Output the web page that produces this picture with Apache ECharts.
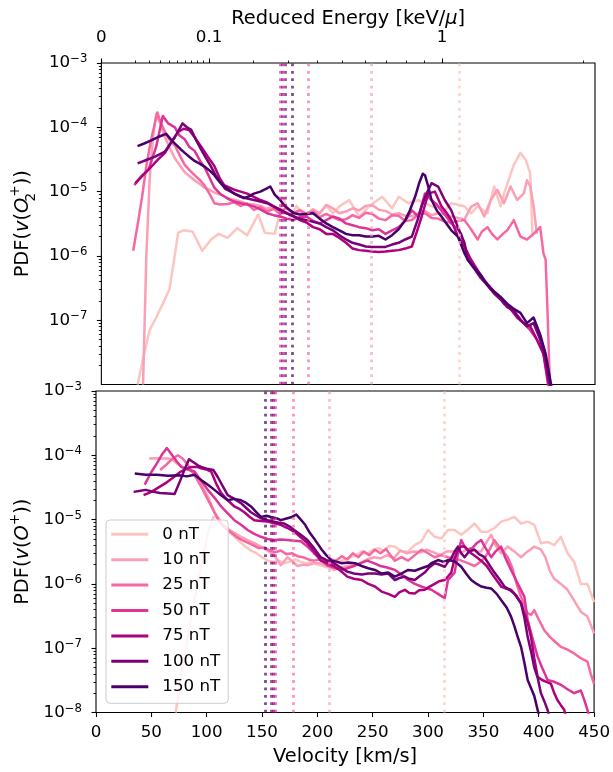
<!DOCTYPE html>
<html><head><meta charset="utf-8">
<script src="https://cdn.jsdelivr.net/npm/echarts@6/dist/echarts.min.js"></script>
<style>html,body{margin:0;padding:0;background:#fff}#c{width:613px;height:772px}</style>
</head><body><div id="c"></div>
<script>
// ---------- data ----------
const fieldLabels = ['0 nT','10 nT','25 nT','50 nT','75 nT','100 nT','150 nT'];
const fieldColors = ['#fcc5c0','#fa9fb5','#f768a1','#dd3497','#ae017e','#7a0177','#49006a'];

// top panel: PDF of O2+ velocity  [velocity km/s, PDF]
const o2_0nT = [[33,1e-8],[38,2.5e-8],[44,7e-8],[50,1.1e-7],[56,1.8e-7],[62,3e-7],[66,8e-7],[70,2.3e-6],[75,2.5e-6],[83,2.4e-6],[92,1.2e-6],[100,1.8e-6],[107,2.2e-6],[115,1.9e-6],[124,2.7e-6],[133,2.1e-6],[143,4.4e-6],[149,2.3e-6],[158,2.2e-6],[166,7.9e-6],[172,4e-6],[178,6e-6],[185,4e-6],[192,5e-6],[198,4.5e-6],[205,6e-6],[211,4.6e-6],[217,5.9e-6],[226,7.4e-6],[235,4.1e-6],[244,5.9e-6],[256,8.3e-6],[265,5.5e-6],[271,8.3e-6],[280,6.6e-6],[289,7.4e-6],[301,5.9e-6],[313,5.1e-6],[319,6.6e-6],[331,5.9e-6],[337,4.6e-6],[343,5.9e-6],[352,4.6e-6],[358,1.2e-5],[364,5.9e-6],[367,9.3e-6],[376,2.6e-5],[382,4e-5],[387,3.1e-5],[391,1.9e-5],[393,2e-6]];
const o2_10nT = [[38,1e-8],[41,1e-6],[44,1.5e-5],[47,7e-5],[50,1.6e-4],[54,1.1e-4],[58,7e-5],[63,4.5e-5],[67,3.3e-5],[72,2.5e-5],[76,2e-5],[81,1.7e-5],[85,1.5e-5],[90,1.3e-5],[94,1.15e-5],[99,1.05e-5],[104,9.5e-6],[109,9e-6],[115,8e-6],[121,7.5e-6],[127,7e-6],[133,6.5e-6],[139,6.3e-6],[145,6e-6],[151,5.4e-6],[157,5.8e-6],[163,5e-6],[169,5.5e-6],[175,4.7e-6],[181,5.2e-6],[187,4.5e-6],[193,5.3e-6],[199,4.6e-6],[205,6.2e-6],[211,5.5e-6],[217,4.6e-6],[223,4.9e-6],[229,5.5e-6],[235,5.1e-6],[241,6e-6],[247,6.2e-6],[253,5.2e-6],[259,5e-6],[265,4.4e-6],[271,4.6e-6],[277,4.2e-6],[283,4.1e-6],[289,4.6e-6],[295,5e-6],[301,4.3e-6],[307,4.6e-6],[313,4.4e-6],[319,4.1e-6],[325,3.9e-6],[331,3.7e-6],[337,5.8e-6],[343,6.6e-6],[349,4.1e-6],[355,7.4e-6],[361,1.07e-5],[367,6.6e-6],[373,1.2e-5],[379,7.4e-6],[385,9.3e-6],[388,1.5e-5],[391,1.2e-5],[394,6e-6],[397,2.2e-6]];
const o2_25nT = [[29,1.2e-6],[33,3e-6],[37,8e-6],[41,2.5e-5],[45,6e-5],[49,1.2e-4],[51,1.7e-4],[54,1.2e-4],[58,8.5e-5],[62,6.5e-5],[67,5.2e-5],[72,3.5e-5],[76,2.6e-5],[81,2.1e-5],[85,1.8e-5],[90,1.5e-5],[94,1.25e-5],[99,9e-6],[103,6.6e-6],[108,6.3e-6],[115,6.4e-6],[121,6.8e-6],[127,6e-6],[133,6.5e-6],[139,5.2e-6],[145,5.8e-6],[151,4.9e-6],[157,5.4e-6],[163,4.5e-6],[169,5.8e-6],[175,4.6e-6],[181,5.1e-6],[187,4.4e-6],[193,4.9e-6],[199,4e-6],[205,4.5e-6],[211,4e-6],[217,3.6e-6],[223,3.7e-6],[229,4.3e-6],[235,3.9e-6],[241,4.7e-6],[247,4.5e-6],[253,3.8e-6],[259,3.6e-6],[265,4.3e-6],[271,4.2e-6],[277,3.5e-6],[283,3.6e-6],[289,4.4e-6],[295,4.6e-6],[301,3.9e-6],[307,3.8e-6],[313,3.4e-6],[319,3.3e-6],[325,3.5e-6],[331,3.6e-6],[337,2.6e-6],[343,1.8e-6],[347,2.4e-6],[352,2.8e-6],[356,2.2e-6],[361,1.8e-6],[366,2.2e-6],[370,2.5e-6],[376,3.6e-6],[382,2e-6],[388,1.8e-6],[394,2.2e-6],[400,2.8e-6],[403,1.1e-6],[405,8.7e-7],[407,1e-7],[409,8e-9]];
const o2_50nT = [[30,1.26e-5],[36,1.7e-5],[43,2.2e-5],[50,5e-5],[56,1.5e-4],[61,1.15e-4],[67,1.0e-4],[71,7.5e-5],[76,6.5e-5],[80,5e-5],[85,4.3e-5],[90,3e-5],[94,2.4e-5],[99,1.6e-5],[103,1.15e-5],[109,9e-6],[115,7.8e-6],[121,7e-6],[127,6.6e-6],[133,6.3e-6],[139,5.9e-6],[145,5.3e-6],[151,4.6e-6],[157,4.3e-6],[163,4.1e-6],[169,3.8e-6],[175,3.6e-6],[181,4e-6],[187,4.1e-6],[193,3.5e-6],[199,3.2e-6],[205,3.6e-6],[211,4.1e-6],[217,3.8e-6],[223,3.2e-6],[229,3e-6],[235,2.8e-6],[241,2.7e-6],[247,2.5e-6],[253,2.6e-6],[259,2.2e-6],[265,2.5e-6],[271,2.8e-6],[277,3.5e-6],[283,5.1e-6],[289,4.1e-6],[295,9.3e-6],[301,7.4e-6],[305,6.5e-6],[310,5.1e-6],[315,4e-6],[319,3.2e-6],[325,2.6e-6],[328,2.2e-6],[331,1.4e-6],[337,8e-7],[343,5.5e-7],[349,4e-7],[355,3e-7],[361,2.5e-7],[367,1.8e-7],[373,1.6e-7],[379,1.2e-7],[385,9e-8],[391,7e-8],[397,5e-8],[403,3e-8],[408,8e-9]];
const o2_75nT = [[31,1.35e-5],[38,1.8e-5],[46,2.5e-5],[52,3.2e-5],[58,4e-5],[64,6e-5],[70,8.5e-5],[75,9.5e-5],[80,9.1e-5],[85,7e-5],[91,5e-5],[97,3.5e-5],[103,2.5e-5],[108,1.6e-5],[112,1.26e-5],[117,1.15e-5],[121,1.07e-5],[127,1.0e-5],[133,9.3e-6],[139,8.3e-6],[145,7.4e-6],[151,6.8e-6],[157,5.9e-6],[163,5.3e-6],[169,4.6e-6],[175,4.2e-6],[181,3.6e-6],[187,3.3e-6],[193,2.8e-6],[199,2.6e-6],[205,2.2e-6],[211,2.2e-6],[217,1.9e-6],[223,1.6e-6],[229,1.3e-6],[235,1.23e-6],[241,1.2e-6],[247,1.17e-6],[253,1.15e-6],[259,1.17e-6],[265,1.2e-6],[271,1.23e-6],[277,1.3e-6],[283,1.4e-6],[288,2.5e-6],[292,4.1e-6],[298,9.3e-6],[304,1.0e-5],[310,5.9e-6],[315,4.6e-6],[319,3.6e-6],[325,2e-6],[331,1.4e-6],[337,8.7e-7],[343,6e-7],[349,4.2e-7],[355,3.2e-7],[361,2.4e-7],[367,1.9e-7],[373,1.5e-7],[379,1.1e-7],[385,9e-8],[391,8e-8],[397,5e-8],[403,3e-8],[409,8e-9]];
const o2_100nT = [[33,2.75e-5],[41,3.1e-5],[49,3.5e-5],[58,4.2e-5],[67,7e-5],[74,1.15e-4],[78,1.0e-4],[82,9.1e-5],[86,6.5e-5],[91,4.5e-5],[95,3.4e-5],[100,2.45e-5],[104,1.8e-5],[109,1.35e-5],[113,1.1e-5],[118,1.0e-5],[123,9e-6],[127,8.3e-6],[133,7.8e-6],[139,7.4e-6],[145,7e-6],[151,6.6e-6],[157,5.9e-6],[163,5.1e-6],[169,4.6e-6],[175,4.1e-6],[181,3.8e-6],[187,3.6e-6],[193,3.4e-6],[199,3.2e-6],[205,2.8e-6],[211,2.5e-6],[217,2.1e-6],[223,1.8e-6],[229,1.6e-6],[235,1.5e-6],[241,1.4e-6],[247,1.38e-6],[253,1.38e-6],[259,1.38e-6],[265,1.5e-6],[271,1.6e-6],[277,1.8e-6],[283,2e-6],[288,3.5e-6],[292,5.9e-6],[296,9e-6],[301,1.35e-5],[307,1.2e-5],[313,7.4e-6],[319,5.1e-6],[325,2.8e-6],[331,1.6e-6],[334,8.7e-7],[340,6.3e-7],[346,4.5e-7],[352,3.5e-7],[358,2.6e-7],[364,2.1e-7],[370,1.6e-7],[376,1.4e-7],[382,1.0e-7],[388,8e-8],[394,9e-8],[400,5e-8],[405,2.5e-8],[410,8e-9]];
const o2_150nT = [[33,5.1e-5],[39,5.6e-5],[46,6.3e-5],[53,7.2e-5],[59,7.9e-5],[63,6.6e-5],[67,5.6e-5],[72,4.6e-5],[76,4e-5],[81,3.4e-5],[85,3e-5],[90,2.7e-5],[94,2.45e-5],[99,2.1e-5],[103,1.8e-5],[108,1.4e-5],[112,1.2e-5],[117,1.05e-5],[121,9.3e-6],[126,8.6e-6],[130,7.9e-6],[135,8.5e-6],[139,9.3e-6],[145,1.0e-5],[150,1.1e-5],[154,1.2e-5],[158,9e-6],[163,7.4e-6],[167,6e-6],[172,5.1e-6],[176,4.6e-6],[181,4.4e-6],[187,4.5e-6],[193,4.6e-6],[199,3.8e-6],[205,3.2e-6],[211,2.8e-6],[217,2.5e-6],[223,2.2e-6],[229,2.1e-6],[235,2.1e-6],[241,2e-6],[247,2e-6],[253,2.05e-6],[259,1.8e-6],[265,2.1e-6],[271,2.6e-6],[277,3.6e-6],[281,5e-6],[286,8.3e-6],[290,1.4e-5],[293,1.9e-5],[295,1.8e-5],[298,1.2e-5],[301,7.4e-6],[306,5e-6],[310,4.1e-6],[315,3.1e-6],[319,2.5e-6],[325,2e-6],[331,1.1e-6],[334,8.7e-7],[340,6.5e-7],[346,5e-7],[352,3.5e-7],[358,2.8e-7],[364,2.3e-7],[370,1.8e-7],[376,1.5e-7],[382,1.3e-7],[388,9e-8],[394,1.1e-7],[400,6e-8],[405,3e-8],[411,8e-9]];

// bottom panel: PDF of O+ velocity
const o_0nT = [[72,1e-8],[75,2.2e-8],[78,5e-8],[82,1.2e-7],[86,3e-7],[90,7e-7],[94,1.6e-6],[98,3.5e-6],[102,7e-6],[106,1.1e-5],[110,1.1e-5],[115,8e-6],[120,6.5e-6],[125,5.5e-6],[130,4.5e-6],[135,3.8e-6],[140,3.3e-6],[145,3e-6],[150,2.6e-6],[155,2.3e-6],[160,2.2e-6],[165,2.3e-6],[170,2.1e-6],[175,2.2e-6],[180,2.4e-6],[185,2.2e-6],[190,2.1e-6],[195,2.2e-6],[200,2e-6],[205,1.9e-6],[210,1.8e-6],[215,2e-6],[220,2.2e-6],[225,2.4e-6],[230,2.6e-6],[235,2.8e-6],[240,3.2e-6],[245,2.9e-6],[250,3.4e-6],[255,3.6e-6],[260,3.3e-6],[265,3.9e-6],[270,3.8e-6],[276,3.2e-6],[282,3.2e-6],[288,4e-6],[294,4.6e-6],[300,6.9e-6],[306,5.4e-6],[312,5.1e-6],[318,6.9e-6],[324,6.9e-6],[330,5.8e-6],[336,7e-6],[342,8.7e-6],[348,6.5e-6],[354,6.5e-6],[360,7.4e-6],[366,9.3e-6],[372,1e-5],[378,1.1e-5],[384,8.7e-6],[390,9.3e-6],[396,8.3e-6],[402,4.3e-6],[408,4.5e-6],[414,4e-6],[420,5.4e-6],[426,3e-6],[432,2.2e-6],[438,1e-6],[444,1e-6],[450,5.2e-7]];
const o_10nT = [[48,8.9e-5],[53,9e-5],[58,8.9e-5],[63,8.9e-5],[68,8.8e-5],[73,7.5e-5],[78,6.6e-5],[84,6e-5],[89,5.2e-5],[95,3.5e-5],[101,2.3e-5],[107,1.3e-5],[113,8.7e-6],[119,7.2e-6],[125,6.2e-6],[131,5.4e-6],[137,4.8e-6],[143,4.3e-6],[149,3.8e-6],[155,3.3e-6],[161,2.8e-6],[167,1.95e-6],[173,2.6e-6],[178,2.2e-6],[182,1.9e-6],[187,2e-6],[191,1.95e-6],[197,2.1e-6],[203,2.1e-6],[209,1.9e-6],[215,1.65e-6],[221,1.8e-6],[227,1.9e-6],[233,2e-6],[239,2.1e-6],[245,2.4e-6],[251,2.6e-6],[257,2.5e-6],[263,2.8e-6],[269,2.5e-6],[275,3.3e-6],[281,3e-6],[287,3.2e-6],[293,3.1e-6],[299,3.4e-6],[305,3.1e-6],[311,2.8e-6],[317,3.2e-6],[323,3.2e-6],[329,3e-6],[335,3.4e-6],[339,3.6e-6],[344,3.2e-6],[348,3.2e-6],[353,4.5e-6],[357,5.8e-6],[361,4e-6],[366,3e-6],[372,3.8e-6],[378,3.2e-6],[384,2.6e-6],[390,3.2e-6],[396,3.8e-6],[402,3.4e-6],[406,2.6e-6],[410,1.6e-6],[414,1.2e-6],[420,1e-6],[426,8.1e-7],[432,5.5e-7],[438,3.7e-7],[444,3.1e-7],[450,1.7e-7]];
const o_25nT = [[58,5.9e-5],[63,7e-5],[68,8.5e-5],[74,1.0e-4],[78,9e-5],[82,7.5e-5],[86,5.9e-5],[90,4.6e-5],[94,3.5e-5],[98,2.6e-5],[102,1.9e-5],[107,1.3e-5],[112,9e-6],[117,7.4e-6],[122,6.3e-6],[127,5.4e-6],[132,4.8e-6],[137,4.4e-6],[142,4e-6],[147,3.6e-6],[152,3.7e-6],[157,3.3e-6],[162,3.1e-6],[167,3.3e-6],[172,2.9e-6],[177,3e-6],[182,2.7e-6],[187,2.6e-6],[192,2.4e-6],[197,2.3e-6],[202,2.4e-6],[207,2.2e-6],[212,2.4e-6],[217,2.3e-6],[222,2.7e-6],[227,2.4e-6],[232,3e-6],[237,2.6e-6],[242,3.2e-6],[247,2.8e-6],[252,3.4e-6],[257,3e-6],[262,3.5e-6],[266,2.8e-6],[270,2.3e-6],[276,2.6e-6],[282,2.3e-6],[288,2.8e-6],[294,3.4e-6],[300,3e-6],[306,2.6e-6],[312,2.8e-6],[318,2.6e-6],[324,2.5e-6],[330,2.3e-6],[336,2.1e-6],[342,1.9e-6],[347,2.2e-6],[351,2.5e-6],[356,3.5e-6],[360,4.8e-6],[364,3.8e-6],[368,3.2e-6],[372,2.6e-6],[376,1.8e-6],[380,1e-6],[384,6.3e-7],[387,4.5e-7],[390,3.5e-7],[393,3.3e-7],[396,3.9e-7],[400,2.8e-7],[405,1.9e-7],[410,1.5e-7],[415,1.25e-7],[420,1.05e-7],[426,9.5e-8],[432,8.3e-8],[438,7e-8],[444,6.2e-8],[447,4e-8],[450,2.8e-8]];
const o_50nT = [[44,3.5e-5],[50,5.5e-5],[55,7.5e-5],[60,1.05e-4],[64,1.3e-4],[68,1.05e-4],[73,8e-5],[77,6.6e-5],[83,6e-5],[89,5.6e-5],[95,4e-5],[101,2.9e-5],[107,2.2e-5],[113,1.6e-5],[119,1.25e-5],[125,9.8e-6],[131,8.3e-6],[137,6.9e-6],[143,6e-6],[149,5.4e-6],[155,5e-6],[161,4.8e-6],[167,4.9e-6],[173,4.8e-6],[179,4.7e-6],[185,4.6e-6],[191,3.8e-6],[197,3e-6],[203,2.4e-6],[209,1.95e-6],[215,1.8e-6],[221,1.65e-6],[227,1.75e-6],[233,1.9e-6],[239,2.1e-6],[245,2.3e-6],[251,2.1e-6],[257,1.9e-6],[263,1.8e-6],[270,1.65e-6],[276,1.4e-6],[282,1.15e-6],[288,1e-6],[294,9.1e-7],[298,8.6e-7],[303,8.1e-7],[309,7e-7],[315,6e-7],[318,1.15e-6],[321,1.3e-6],[324,1.5e-6],[327,3e-6],[330,4.8e-6],[333,3.8e-6],[336,3.4e-6],[340,3.6e-6],[344,4.3e-6],[348,4.8e-6],[352,3.6e-6],[357,2.6e-6],[361,3.2e-6],[366,3.8e-6],[370,2.5e-6],[375,1.65e-6],[380,1.1e-6],[384,8e-7],[387,6.3e-7],[390,2.75e-7],[394,1.5e-7],[399,7.4e-8],[403,5e-8],[408,3.2e-8],[414,3e-8],[420,2.7e-8],[426,2.3e-8],[432,2e-8],[438,2.2e-8],[441,1.6e-8],[444,1.1e-8],[446,8e-9]];
const o_75nT = [[43,2.4e-5],[50,2.7e-5],[57,3.2e-5],[64,3.8e-5],[71,4.7e-5],[76,5.5e-5],[81,6.1e-5],[86,6.6e-5],[91,6.6e-5],[95,6.3e-5],[100,6e-5],[104,5.6e-5],[109,3.5e-5],[113,2.6e-5],[119,2e-5],[125,1.6e-5],[130,1.45e-5],[134,1.3e-5],[139,1.1e-5],[143,9.8e-6],[149,9.5e-6],[155,9.3e-6],[161,8.8e-6],[167,8.3e-6],[173,7.4e-6],[179,6.5e-6],[185,5.3e-6],[191,4.3e-6],[197,3.2e-6],[203,2.3e-6],[209,2.1e-6],[215,1.9e-6],[221,1.6e-6],[227,1.3e-6],[233,1.2e-6],[240,1.15e-6],[246,1e-6],[252,9.1e-7],[258,7.6e-7],[264,7e-7],[270,6.3e-7],[274,7.4e-7],[279,8.1e-7],[283,7.2e-7],[288,7.1e-7],[292,8e-7],[297,8.1e-7],[301,9e-7],[306,1e-6],[310,1.1e-6],[315,1.15e-6],[318,1.3e-6],[321,1.5e-6],[324,2.5e-6],[327,3.4e-6],[330,3.8e-6],[333,3.8e-6],[336,3.3e-6],[339,3e-6],[344,2.6e-6],[348,2.3e-6],[353,1.9e-6],[357,1.5e-6],[361,1.2e-6],[366,9.1e-7],[370,8.5e-7],[375,8.1e-7],[380,6.5e-7],[384,5e-7],[387,3.5e-7],[390,2.5e-7],[393,1.5e-7],[396,7e-8],[399,3.6e-8],[403,3.2e-8],[407,3e-8],[411,2.8e-8],[414,2e-8],[417,1.55e-8],[420,1.3e-8],[423,1.1e-8],[425,8e-9]];
const o_100nT = [[34,2.7e-5],[40,2.8e-5],[45,2.9e-5],[52,2.7e-5],[58,2.6e-5],[65,2.55e-5],[71,2.5e-5],[76,4e-5],[80,6e-5],[84,8.7e-5],[88,7.8e-5],[92,7e-5],[95,6.6e-5],[100,6.2e-5],[106,5.9e-5],[110,4.6e-5],[115,3.2e-5],[119,2.4e-5],[125,2.1e-5],[131,1.8e-5],[136,1.5e-5],[140,1.3e-5],[145,1.15e-5],[149,1.05e-5],[155,9.8e-6],[161,9.3e-6],[166,8.9e-6],[170,8.7e-6],[175,7.8e-6],[179,6.9e-6],[185,5.8e-6],[191,4.8e-6],[197,3.6e-6],[203,2.6e-6],[209,2.3e-6],[215,2.1e-6],[221,1.8e-6],[227,1.55e-6],[233,1.45e-6],[240,1.4e-6],[246,1.45e-6],[252,1.45e-6],[258,1.4e-6],[264,1.45e-6],[270,1.15e-6],[275,1.25e-6],[279,1.3e-6],[283,1.2e-6],[288,1.15e-6],[292,1.3e-6],[297,1.5e-6],[301,1.8e-6],[306,2.1e-6],[310,2e-6],[315,1.85e-6],[318,2.2e-6],[321,2.5e-6],[324,3.2e-6],[327,3.8e-6],[330,3e-6],[333,2.6e-6],[337,3.2e-6],[342,3.4e-6],[346,2.9e-6],[351,2.6e-6],[356,1.9e-6],[360,1.5e-6],[365,1.15e-6],[369,9.1e-7],[374,8e-7],[378,7e-7],[384,5e-7],[387,3e-7],[390,1.5e-7],[393,9e-8],[396,5e-8],[399,3.5e-8],[402,2e-8],[405,1.5e-8],[408,1.1e-8],[410,8e-9]];
const o_150nT = [[35,5.2e-5],[45,5.0e-5],[55,5.0e-5],[65,4.8e-5],[75,4.9e-5],[82,4.7e-5],[89,5.0e-5],[96,4e-5],[102,3.4e-5],[107,2.9e-5],[113,2.4e-5],[119,2e-5],[125,2.1e-5],[131,2e-5],[136,1.8e-5],[140,1.6e-5],[145,1.3e-5],[149,1.1e-5],[154,1.15e-5],[158,1.1e-5],[163,1.05e-5],[167,9.8e-6],[173,1.05e-5],[177,1.1e-5],[181,1.2e-5],[185,1.0e-5],[189,8.3e-6],[193,6.3e-6],[198,4.8e-6],[204,3.4e-6],[208,2.8e-6],[213,2.3e-6],[218,2.2e-6],[222,2.1e-6],[228,2.15e-6],[234,2.1e-6],[240,1.9e-6],[246,1.75e-6],[252,1.65e-6],[258,1.45e-6],[264,1.5e-6],[270,1.3e-6],[276,1.45e-6],[282,1.65e-6],[288,1.6e-6],[294,1.75e-6],[300,1.9e-6],[303,2.1e-6],[309,2.35e-6],[314,2.2e-6],[318,2.35e-6],[324,2.25e-6],[330,1.85e-6],[335,1.4e-6],[339,1.15e-6],[344,1.0e-6],[348,9.1e-7],[353,8.7e-7],[357,8.5e-7],[362,7e-7],[366,5.6e-7],[371,4.3e-7],[375,3.1e-7],[378,2.2e-7],[381,1.5e-7],[384,1.05e-7],[387,6e-8],[390,3.2e-8],[393,2.4e-8],[396,1.8e-8],[399,1.1e-8],[401,8e-9]];

// mean velocity markers (dotted vertical lines), km/s, same order as fieldLabels
const o2MeanVelocity = [325.8, 246.2, 188.8, 163, 165, 168, 174.3];
const oMeanVelocity  = [315, 210.7, 178, 162, 160, 158.5, 153.3];

// axis ticks
const velocityMin = 0, velocityMax = 450, velocityStep = 50;
const pdfMin = 1e-8, pdfMax = 1e-3;
const energyMajor = [0, 0.1, 1];
const energyMinor = [0.01,0.02,0.03,0.04,0.05,0.06,0.07,0.08,0.09,0.2,0.3,0.4,0.5,0.6,0.7,0.8,0.9,2];
const AMU_KEV = 1.0364e-5; // keV per (km/s)^2 per amu

// ---------- chart ----------
const FONT = 'DejaVu Sans';
const vOfE = e => Math.sqrt(e / AMU_KEV);
const minorLog = [];
for (let n = -8; n < -3; n++) for (let k = 2; k <= 9; k++) minorLog.push(n + Math.log10(k));

const o2Data = [o2_0nT, o2_10nT, o2_25nT, o2_50nT, o2_75nT, o2_100nT, o2_150nT];
const oData = [o_0nT, o_10nT, o_25nT, o_50nT, o_75nT, o_100nT, o_150nT];

function makeSeries(i, data, vline, xi, yi) {
  const c = fieldColors[i];
  return {
    name: fieldLabels[i], type: 'line', xAxisIndex: xi, yAxisIndex: yi, data,
    symbol: 'none', showSymbol: false, animation: false,
    lineStyle: { color: c, width: 2.5, join: 'round' }, itemStyle: { color: c },
    emphasis: { disabled: true },
    markLine: {
      silent: true, symbol: ['none', 'none'], animation: false, label: { show: false },
      emphasis: { disabled: true },
      lineStyle: { color: c, width: 2.8, type: [2.8, 4.6], opacity: 0.7, cap: 'butt' },
      data: [{ xAxis: vline }]
    }
  };
}

const tickStyle = { color: '#000', width: 1.1 };
function logYAxis(gridIndex, nameRich, hideMin) {
  return {
    gridIndex, type: 'log', logBase: 10, min: pdfMin, max: pdfMax, position: 'left',
    axisLine: { show: false, onZero: false },
    axisTick: { show: true, inside: false, length: 4.5, lineStyle: tickStyle },
    splitLine: { show: false },
    axisLabel: {
      margin: 14, showMinLabel: !hideMin, showMaxLabel: true,
      formatter: v => '{b|10}{s|\u2212' + (-Math.round(Math.log10(v))) + '}',
      rich: {
        b: { fontSize: 16.7, fontFamily: FONT, color: '#000', lineHeight: 20, verticalAlign: 'middle' },
        s: { fontSize: 11.7, fontFamily: FONT, color: '#000', lineHeight: 10, verticalAlign: 'top' }
      }
    },
    name: nameRich, nameLocation: 'middle', nameGap: 55, nameRotate: 90,
    nameTextStyle: {
      color: '#000', fontFamily: FONT, fontSize: 19.4,
      rich: {
        n: { fontSize: 19.4, fontFamily: FONT, color: '#000', lineHeight: 30 },
        i: { fontSize: 19.4, fontFamily: FONT, color: '#000', lineHeight: 30, fontStyle: 'italic' },
        sb: { fontSize: 13.6, fontFamily: FONT, color: '#000', lineHeight: 14, verticalAlign: 'bottom', width: 1 },
        sp: { fontSize: 13.6, fontFamily: FONT, color: '#000', lineHeight: 14, verticalAlign: 'top' }
      }
    }
  };
}
function minorYAxis(gridIndex) {
  return {
    gridIndex, type: 'value', min: -8, max: -3, position: 'left',
    axisLine: { show: false, onZero: false },
    axisTick: { show: true, inside: false, length: 2.5, lineStyle: { color: '#000', width: 0.9 }, customValues: minorLog },
    axisLabel: { show: false }, splitLine: { show: false }
  };
}

const option = {
  backgroundColor: '#fff',
  animation: false,
  grid: [
    { left: 96, right: 18, top: 63, height: 321.5, show: true, borderColor: '#000', borderWidth: 1.1, backgroundColor: 'transparent', containLabel: false },
    { left: 96, right: 18, top: 391, height: 321.5, show: true, borderColor: '#000', borderWidth: 1.1, backgroundColor: 'transparent', containLabel: false }
  ],
  xAxis: [
    { gridIndex: 0, type: 'value', min: velocityMin, max: velocityMax, interval: velocityStep, position: 'bottom',
      axisLine: { show: false, onZero: false }, axisTick: { show: false }, axisLabel: { show: false }, splitLine: { show: false } },
    { gridIndex: 1, type: 'value', min: velocityMin, max: velocityMax, interval: velocityStep, position: 'bottom',
      axisLine: { show: false, onZero: false },
      axisTick: { show: true, inside: false, length: 4.5, lineStyle: tickStyle },
      axisLabel: { margin: 12, fontSize: 16.7, fontFamily: FONT, color: '#000' },
      splitLine: { show: false },
      name: 'Velocity [km/s]', nameLocation: 'middle', nameGap: 33,
      nameTextStyle: { fontSize: 19.4, fontFamily: FONT, color: '#000', lineHeight: 22 } },
    { gridIndex: 0, type: 'value', min: velocityMin, max: velocityMax, position: 'top',
      axisLine: { show: false, onZero: false },
      axisTick: { show: true, inside: false, length: 4.5, lineStyle: tickStyle, customValues: energyMajor.map(vOfE) },
      axisLabel: { margin: 17, fontSize: 16.7, fontFamily: FONT, color: '#000', customValues: energyMajor.map(vOfE),
        formatter: v => { const e = AMU_KEV * v * v; return e < 1e-9 ? '0' : String(Number(e.toPrecision(3))); } },
      splitLine: { show: false },
      name: '{n|Reduced Energy [keV/}{i|\u03bc}{n|]}', nameLocation: 'middle', nameGap: 30,
      nameTextStyle: { fontSize: 19.4, fontFamily: FONT, color: '#000',
        rich: { n: { fontSize: 19.4, fontFamily: FONT, color: '#000', lineHeight: 22 },
                i: { fontSize: 19.4, fontFamily: FONT, color: '#000', lineHeight: 22, fontStyle: 'italic' } } } },
    { gridIndex: 0, type: 'value', min: velocityMin, max: velocityMax, position: 'top',
      axisLine: { show: false, onZero: false },
      axisTick: { show: true, inside: false, length: 2.5, lineStyle: { color: '#000', width: 0.9 }, customValues: energyMinor.map(vOfE) },
      axisLabel: { show: false }, splitLine: { show: false } }
  ],
  yAxis: [
    logYAxis(0, '{n|PDF(}{i|v}{n|(}{i|O}{sb|2}{sp|+}{n|))}', true),
    minorYAxis(0),
    logYAxis(1, '{n|PDF(}{i|v}{n|(}{i|O}{sp|+}{n|))}', false),
    minorYAxis(1)
  ],
  legend: {
    orient: 'vertical', left: 106, top: 520,
    padding: [4.3, 8, 6.6, 5.3],
    icon: 'rect',
    itemWidth: 37, itemHeight: 3, itemGap: 5.4,
    data: fieldLabels,
    borderColor: '#cccccc', borderWidth: 1, borderRadius: 4,
    backgroundColor: 'rgba(255,255,255,0.8)',
    selectedMode: false,
    textStyle: { fontSize: 16.7, fontFamily: FONT, color: '#000', lineHeight: 20, padding: [0, 0, 0, 9] }
  },
  series: [
    ...o2Data.map((d, i) => makeSeries(i, d, o2MeanVelocity[i], 0, 0)),
    ...oData.map((d, i) => makeSeries(i, d, oMeanVelocity[i], 1, 2))
  ]
};

const chart = echarts.init(document.getElementById('c'), null, { renderer: 'canvas' });
chart.setOption(option);
</script>
</body></html>
